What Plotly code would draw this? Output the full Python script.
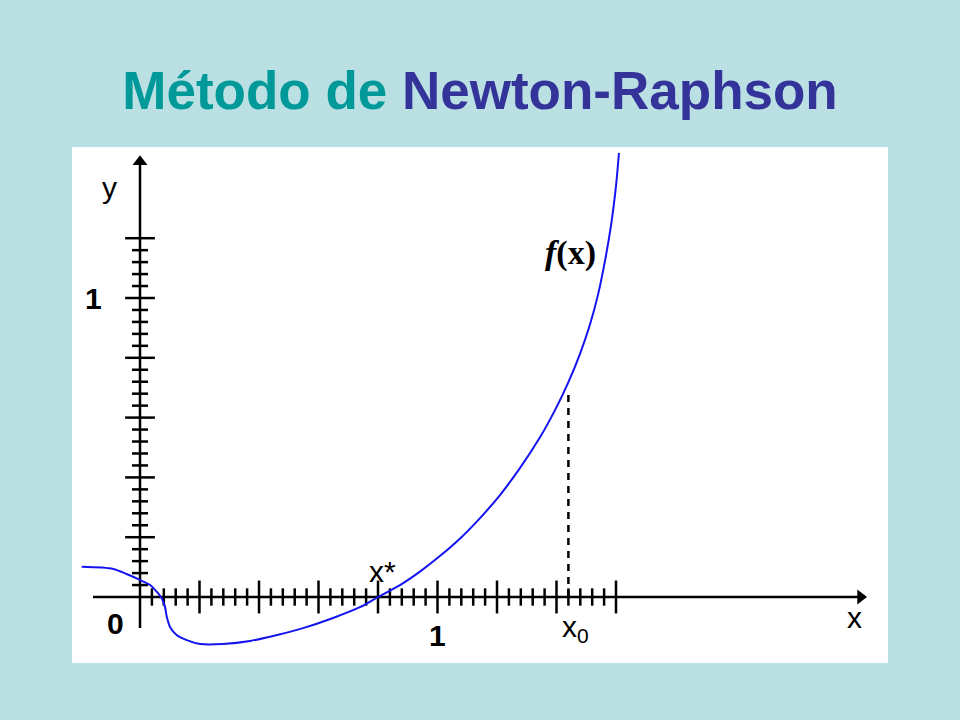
import plotly.graph_objects as go

# ---- data ----
curve_x = [-0.196, -0.090, -0.045, 0.000, 0.034, 0.056, 0.073, 0.084, 0.090, 0.101,
           0.123, 0.157, 0.202, 0.279, 0.370, 0.461, 0.548, 0.649, 0.739, 0.800,
           0.874, 0.941, 1.008, 1.076, 1.143, 1.210, 1.277, 1.345, 1.395, 1.439,
           1.479, 1.513, 1.540, 1.563, 1.583, 1.600, 1.610]
curve_y = [0.101, 0.094, 0.077, 0.057, 0.040, 0.018, -0.004, -0.033, -0.066, -0.100,
           -0.127, -0.144, -0.157, -0.157, -0.147, -0.127, -0.104, -0.070, -0.034, 0.000,
           0.040, 0.085, 0.137, 0.196, 0.264, 0.341, 0.431, 0.535, 0.625, 0.716,
           0.813, 0.913, 1.013, 1.124, 1.241, 1.375, 1.485]

x_root = 0.80
x0 = 1.44
x0_dash_top = 0.68

x_major_ticks = [0.2, 0.4, 0.6, 0.8, 1.0, 1.2, 1.4, 1.6]
y_major_ticks = [0.2, 0.4, 0.6, 0.8, 1.0, 1.2]
minor_step = 0.04

x_axis_span = [-0.158, 2.444]
y_axis_span = [-0.104, 1.478]

# ---- styles ----
BG = "#BBE0E4"
AXIS_W = 2.5
FONT = "Liberation Sans, Arial, sans-serif"


def tick_segments(positions, half, vertical):
    xs, ys = [], []
    for p in positions:
        if vertical:  # ticks on x axis (vertical segments)
            xs += [p, p, None]
            ys += [-half, half, None]
        else:
            xs += [-half, half, None]
            ys += [p, p, None]
    return xs, ys


def minors(majors):
    out = []
    top = max(majors)
    n = int(round(top / minor_step))
    for i in range(1, n):
        v = round(i * minor_step, 4)
        if all(abs(v - m) > 1e-6 for m in majors):
            out.append(v)
    return out


fig = go.Figure()

# axes lines
fig.add_trace(go.Scatter(x=[x_axis_span[0], x_axis_span[1] - 0.02], y=[0, 0], mode="lines",
                         line=dict(color="black", width=AXIS_W), hoverinfo="skip"))
fig.add_trace(go.Scatter(x=[0, 0], y=[y_axis_span[0], y_axis_span[1] - 0.02], mode="lines",
                         line=dict(color="black", width=AXIS_W), hoverinfo="skip"))

# arrow heads
fig.add_trace(go.Scatter(x=[x_axis_span[1] - 0.022], y=[0], mode="markers",
                         marker=dict(symbol="triangle-right", size=13, color="black"),
                         hoverinfo="skip"))
fig.add_trace(go.Scatter(x=[0], y=[y_axis_span[1] - 0.022], mode="markers",
                         marker=dict(symbol="triangle-up", size=13, color="black"),
                         hoverinfo="skip"))

# ticks
for majors, vertical, hmaj, hmin in [(x_major_ticks, True, 0.055, 0.029),
                                     (y_major_ticks, False, 0.050, 0.027)]:
    mx, my = tick_segments(majors, hmaj, vertical)
    nx, ny = tick_segments(minors(majors), hmin, vertical)
    fig.add_trace(go.Scatter(x=mx + nx, y=my + ny, mode="lines",
                             line=dict(color="black", width=AXIS_W), hoverinfo="skip"))

# dashed line at x0
fig.add_trace(go.Scatter(x=[x0, x0], y=[0, x0_dash_top], mode="lines",
                         line=dict(color="black", width=2.5, dash="7px,6px"), hoverinfo="skip"))

# curve
fig.add_trace(go.Scatter(x=curve_x, y=curve_y, mode="lines",
                         line=dict(color="#1414F0", width=2, shape="spline", smoothing=0.8),
                         hoverinfo="skip"))

# labels
labels = [
    ("y", -0.101, 1.37, 30, False),
    ("1", -0.155, 1.0, 30, True),
    ("0", -0.084, -0.09, 30, True),
    ("1", 1.0, -0.13, 30, True),
    ("x*", 0.815, 0.085, 30, False),
    ("x<sub>0</sub>", 1.465, -0.105, 30, False),
    ("x", 2.40, -0.07, 30, False),
]
for txt, lx, ly, sz, bold in labels:
    fig.add_annotation(x=lx, y=ly, xref="x", yref="y", text=("<b>%s</b>" % txt) if bold else txt,
                       showarrow=False, font=dict(family=FONT, size=sz, color="black"))
fig.add_annotation(x=1.448, y=1.15, xref="x", yref="y", text="<b><i>f</i>(x)</b>",
                   showarrow=False, font=dict(family="Liberation Serif, serif", size=34, color="black"))

fig.update_layout(
    width=960, height=720,
    paper_bgcolor=BG, plot_bgcolor="white",
    margin=dict(l=72, r=72, t=147, b=57),
    showlegend=False,
    title=dict(text="<span style='color:#009999'>Método de</span> "
                    "<span style='color:#333399'>Newton-Raphson</span>",
               x=0.5, xanchor="center", y=1 - 90 / 720, yanchor="middle",
               font=dict(family=FONT, size=53, weight="bold")),
    xaxis=dict(range=[-0.2286, 2.5143], visible=False, fixedrange=True),
    yaxis=dict(range=[-0.2207, 1.505], visible=False, fixedrange=True),
)

fig.write_html("out.html", config={"displayModeBar": False},
               post_script="document.body.style.margin='0';")
